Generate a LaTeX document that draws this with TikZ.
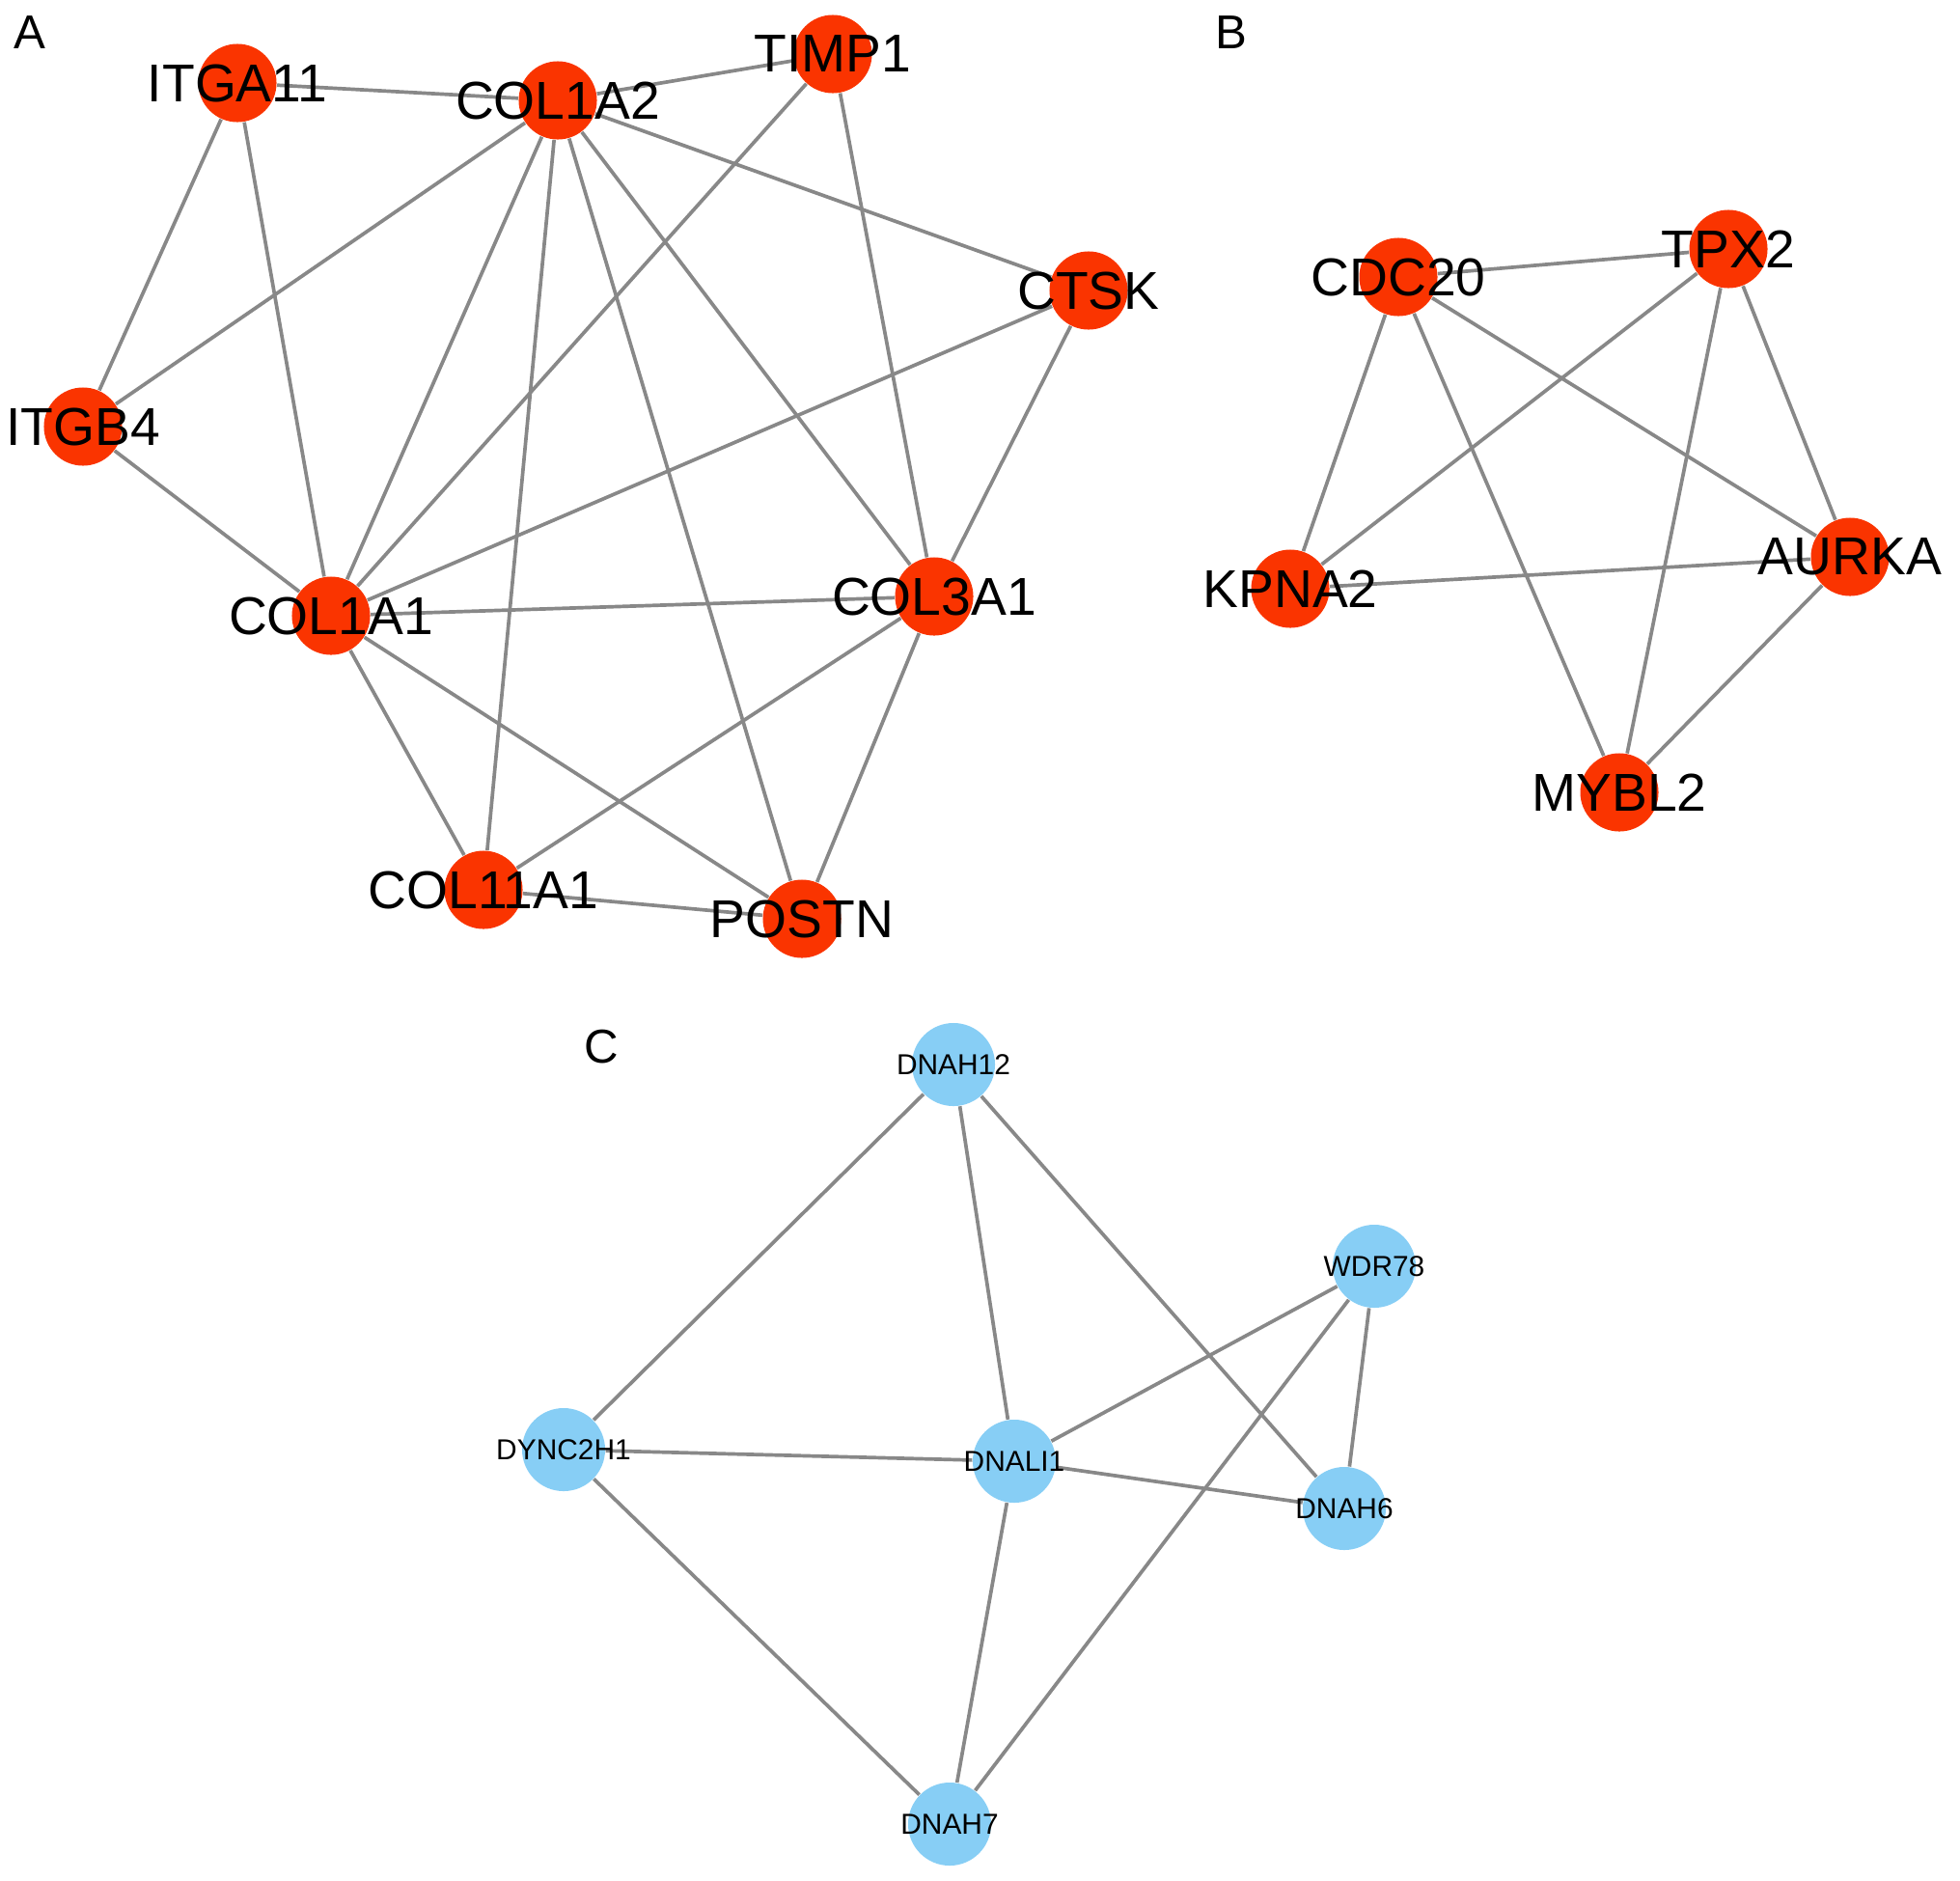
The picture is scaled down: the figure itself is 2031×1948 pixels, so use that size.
\documentclass[tikz,border=0pt]{standalone}
\usepackage{fontspec}
\setmainfont{Liberation Sans}
\usepackage{xcolor}
\pgfdeclarelayer{background}
\pgfsetlayers{background,main}

\definecolor{genered}{RGB}{250,52,0}
\definecolor{geneblue}{RGB}{135,206,245}
\definecolor{linkgray}{RGB}{136,136,136}

\begin{document}
\begin{tikzpicture}[x=0.01cm,y=-0.01cm,
    bigtext/.style={font=\fontsize{15.7}{18}\selectfont},
    smalltext/.style={font=\fontsize{8.5}{10}\selectfont},
    rednode/.style={circle,fill=genered,minimum size=0.81cm,inner sep=0pt,label={[bigtext]center:#1}},
    bluenode/.style={circle,fill=geneblue,minimum size=0.86cm,inner sep=0pt,label={[smalltext]center:#1}},
    link/.style={draw=linkgray,line width=1.05pt}]

      % Fix the page size
      \path[use as bounding box] (0,0) rectangle (2031,1948);

      % Panel letters
      \node[font=\fontsize{14}{16}\selectfont] (labA) at (31,34) {A};
      \node[font=\fontsize{14}{16}\selectfont] (labB) at (1276,34) {B};
      \node[font=\fontsize{14}{16}\selectfont] (labC) at (623,1085) {C};

      % Network A
      \node[rednode=ITGA11] (ITGA11) at (246,86) {};
      \node[rednode=COL1A2] (COL1A2) at (578,104) {};
      \node[rednode=TIMP1] (TIMP1) at (863,56) {};
      \node[rednode=CTSK] (CTSK) at (1128,301) {};
      \node[rednode=ITGB4] (ITGB4) at (86,442) {};
      \node[rednode=COL1A1] (COL1A1) at (343,638) {};
      \node[rednode=COL3A1] (COL3A1) at (968,618) {};
      \node[rednode=COL11A1] (COL11A1) at (501,922) {};
      \node[rednode=POSTN] (POSTN) at (831,952) {};

      % Network B
      \node[rednode=CDC20] (CDC20) at (1449,287) {};
      \node[rednode=TPX2] (TPX2) at (1791,258) {};
      \node[rednode=KPNA2] (KPNA2) at (1337,610) {};
      \node[rednode=AURKA] (AURKA) at (1917,577) {};
      \node[rednode=MYBL2] (MYBL2) at (1678,821) {};

      % Network C
      \node[bluenode=DNAH12] (DNAH12) at (988,1103) {};
      \node[bluenode=WDR78] (WDR78) at (1424,1312) {};
      \node[bluenode=DYNC2H1] (DYNC2H1) at (584,1502) {};
      \node[bluenode=DNALI1] (DNALI1) at (1051,1514) {};
      \node[bluenode=DNAH6] (DNAH6) at (1393,1563) {};
      \node[bluenode=DNAH7] (DNAH7) at (984,1890) {};

      % Draw the interactions behind the nodes
      \begin{pgfonlayer}{background}
        \draw[link] (ITGA11) -- (COL1A2);
        \draw[link] (COL1A2) -- (TIMP1);
        \draw[link] (ITGA11) -- (ITGB4);
        \draw[link] (ITGA11) -- (COL1A1);
        \draw[link] (COL1A2) -- (ITGB4);
        \draw[link] (COL1A2) -- (COL1A1);
        \draw[link] (COL1A2) -- (COL11A1);
        \draw[link] (COL1A2) -- (POSTN);
        \draw[link] (COL1A2) -- (COL3A1);
        \draw[link] (COL1A2) -- (CTSK);
        \draw[link] (TIMP1) -- (COL1A1);
        \draw[link] (TIMP1) -- (COL3A1);
        \draw[link] (CTSK) -- (COL1A1);
        \draw[link] (CTSK) -- (COL3A1);
        \draw[link] (ITGB4) -- (COL1A1);
        \draw[link] (COL1A1) -- (COL3A1);
        \draw[link] (COL1A1) -- (COL11A1);
        \draw[link] (COL1A1) -- (POSTN);
        \draw[link] (COL3A1) -- (COL11A1);
        \draw[link] (COL3A1) -- (POSTN);
        \draw[link] (COL11A1) -- (POSTN);

        \draw[link] (CDC20) -- (TPX2);
        \draw[link] (CDC20) -- (KPNA2);
        \draw[link] (CDC20) -- (MYBL2);
        \draw[link] (CDC20) -- (AURKA);
        \draw[link] (TPX2) -- (KPNA2);
        \draw[link] (TPX2) -- (MYBL2);
        \draw[link] (TPX2) -- (AURKA);
        \draw[link] (KPNA2) -- (AURKA);
        \draw[link] (AURKA) -- (MYBL2);

        \draw[link] (DNAH12) -- (DYNC2H1);
        \draw[link] (DNAH12) -- (DNALI1);
        \draw[link] (DNAH12) -- (DNAH6);
        \draw[link] (WDR78) -- (DNALI1);
        \draw[link] (WDR78) -- (DNAH7);
        \draw[link] (WDR78) -- (DNAH6);
        \draw[link] (DYNC2H1) -- (DNALI1);
        \draw[link] (DYNC2H1) -- (DNAH7);
        \draw[link] (DNALI1) -- (DNAH6);
        \draw[link] (DNALI1) -- (DNAH7);
      \end{pgfonlayer}
    \end{tikzpicture}
\end{document}
